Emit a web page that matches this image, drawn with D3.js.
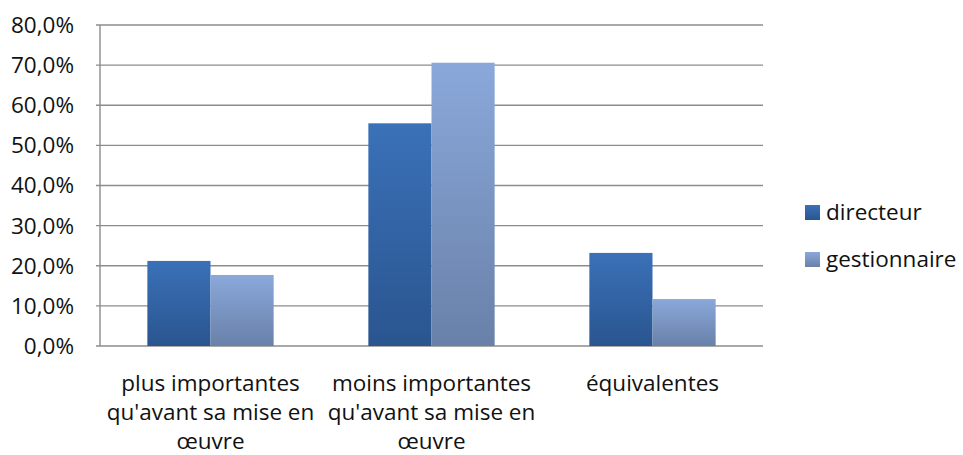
<!DOCTYPE html>
<html>
<head>
<meta charset="utf-8">
<script src="https://cdn.jsdelivr.net/npm/d3@7"></script>
<style>
  body { margin: 0; background: #fff; }
  svg text { font-family: "Open Sans", Lato, sans-serif; fill: #111; }
</style>
</head>
<body>
<svg id="chart" width="963" height="455"></svg>
<script>
// data
const categories = ['plus', 'moins', 'equiv'];
const categoryLabels = [
  ['plus importantes', "qu'avant sa mise en", 'œuvre'],
  ['moins importantes', "qu'avant sa mise en", 'œuvre'],
  ['équivalentes']
];
const seriesNames = ['directeur', 'gestionnaire'];
const directeur = [21.2, 55.5, 23.2];
const gestionnaire = [17.7, 70.6, 11.7];
const yTicks = [0, 10, 20, 30, 40, 50, 60, 70, 80];

const margin = { top: 25, left: 100 };
const plotW = 763 - margin.left;
const plotH = 346 - margin.top;
const fontSize = '22.5px';

const svg = d3.select('#chart');

const defs = svg.append('defs');
const grads = [
  { id: 'g-dir', top: '#3a71b8', bottom: '#2a558f' },
  { id: 'g-ges', top: '#8aa8da', bottom: '#6981a9' }
];
grads.forEach((g) => {
  let lg = defs.append('linearGradient')
    .attr('id', g.id)
    .attr('x1', 0).attr('y1', 0).attr('x2', 0).attr('y2', 1);
  lg.append('stop').attr('offset', '0%').attr('stop-color', g.top);
  lg.append('stop').attr('offset', '100%').attr('stop-color', g.bottom);
});
const fills = ['url(#g-dir)', 'url(#g-ges)'];

const chart = svg.append('g')
  .attr('transform', `translate(${margin.left},${margin.top})`);

const x = d3.scaleBand().domain(categories).range([0, plotW]);
const y = d3.scaleLinear().domain([0, 80]).range([plotH, 0]);

// gridlines
chart.selectAll('.grid')
  .data(yTicks)
  .enter()
  .append('line')
  .attr('class', 'grid')
  .attr('x1', -4)
  .attr('x2', plotW)
  .attr('y1', (d) => y(d))
  .attr('y2', (d) => y(d))
  .attr('stroke', '#8c8c8c')
  .attr('stroke-width', 1.4);

// y axis line
chart.append('line')
  .attr('x1', 0).attr('x2', 0)
  .attr('y1', 0).attr('y2', plotH)
  .attr('stroke', '#8c8c8c')
  .attr('stroke-width', 1.4);

// y tick labels
chart.selectAll('.ylab')
  .data(yTicks)
  .enter()
  .append('text')
  .attr('class', 'ylab')
  .attr('x', -26)
  .attr('y', (d) => y(d))
  .attr('dy', '0.35em')
  .attr('text-anchor', 'end')
  .style('font-size', fontSize)
  .text((d) => d3.format('.1f')(d).replace('.', ',') + '%');

// bars: Excel style gap width 150%
const bw = x.bandwidth() / 3.5;
const values = [directeur, gestionnaire];
values.forEach((vals, si) => {
  chart.selectAll('.bar-' + si)
    .data(categories)
    .enter()
    .append('rect')
    .attr('class', 'bar-' + si)
    .attr('x', (d) => x(d) + bw * 0.75 + si * bw)
    .attr('width', bw)
    .attr('y', (d, i) => y(vals[i]))
    .attr('height', (d, i) => plotH - y(vals[i]))
    .attr('fill', fills[si]);
});

// category labels
const catG = chart.selectAll('.cat')
  .data(categories)
  .enter()
  .append('text')
  .attr('class', 'cat')
  .attr('text-anchor', 'middle')
  .style('font-size', fontSize)
  .attr('transform', (d) => `translate(${x(d) + x.bandwidth() / 2},${plotH + 45})`);
catG.selectAll('tspan')
  .data((d, i) => categoryLabels[i])
  .enter()
  .append('tspan')
  .attr('x', 0)
  .attr('y', (d, i) => i * 29)
  .text((d) => d);

// legend
const legend = svg.selectAll('.legend')
  .data(seriesNames)
  .enter()
  .append('g')
  .attr('class', 'legend')
  .attr('transform', (d, i) => `translate(805,${205 + i * 47})`);
legend.append('rect')
  .attr('width', 15)
  .attr('height', 15)
  .attr('fill', (d, i) => fills[i]);
legend.append('text')
  .attr('x', 21)
  .attr('y', 15)
  .style('font-size', fontSize)
  .text((d) => d);
</script>
</body>
</html>
